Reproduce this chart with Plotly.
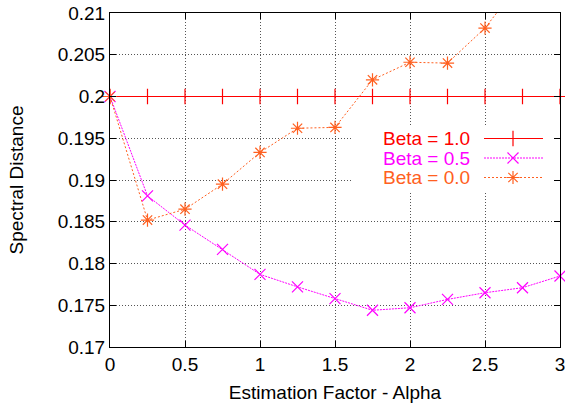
import plotly.graph_objects as go

alpha = [0, 0.25, 0.5, 0.75, 1.0, 1.25, 1.5, 1.75, 2.0, 2.25, 2.5, 2.75, 3.0]
beta10 = [0.2] * 13
beta05 = [0.2, 0.1881, 0.1846, 0.1817, 0.1787, 0.1772, 0.1758, 0.1744, 0.1747,
          0.1757, 0.1765, 0.1771, 0.1785]
beta00 = [0.2, 0.1852, 0.1865, 0.1895, 0.1933, 0.1962, 0.1963, 0.2020, 0.2041,
          0.2040, 0.2082, 0.2140, 0.2180]

names = ["Beta = 1.0", "Beta = 0.5", "Beta = 0.0"]
colors = ["#ff0000", "#ff00ff", "#ff6020"]
symbols = ["cross-thin-open", "x-thin-open", "asterisk-open"]
dashes = ["solid", "2px,1px", "2px,2px"]
series = [beta10, beta05, beta00]

xticks = [0, 0.5, 1, 1.5, 2, 2.5, 3]
xticklabels = ["0", "0.5", "1", "1.5", "2", "2.5", "3"]
yticks = [0.17, 0.175, 0.18, 0.185, 0.19, 0.195, 0.2, 0.205, 0.21]
yticklabels = ["0.17", "0.175", "0.18", "0.185", "0.19", "0.195", "0.2", "0.205", "0.21"]

W, H = 565, 410
L, R, T, B = 110, 5, 13, 63
PW, PH = W - L - R, H - T - B

def fx(px):
    return (px - L) / PW

def fy(py):
    return (H - B - py) / PH

FONT = "Liberation Sans, Arial, Helvetica, sans-serif"

fig = go.Figure()
for name, ys, c, s, d in zip(names, series, colors, symbols, dashes):
    fig.add_trace(go.Scatter(
        x=alpha, y=ys, mode="lines+markers", name=name,
        line=dict(color=c, width=1, dash=d),
        marker=dict(symbol=s, size=11, color=c, line=dict(color=c, width=1.2)),
        cliponaxis=False, showlegend=False,
    ))

# opaque key background (covers grid lines)
bx0, bx1, by0, by1 = fx(353), fx(557), fy(192), fy(126)
fig.add_trace(go.Scatter(
    x=[bx0, bx1, bx1, bx0, bx0], y=[by0, by0, by1, by1, by0],
    xaxis="x2", yaxis="y2", mode="lines", fill="toself",
    fillcolor="white", line=dict(width=0, color="white"),
    showlegend=False, hoverinfo="skip",
))

# custom gnuplot-style key
leg_y = [138.5, 158, 177.5]
for name, c, s, d, py in zip(names, colors, symbols, dashes, leg_y):
    fig.add_annotation(xref="paper", yref="paper", x=fx(472), y=fy(py),
                       text=name, showarrow=False, xanchor="right", yanchor="middle",
                       font=dict(family=FONT, size=19, color=c))
    fig.add_trace(go.Scatter(
        x=[fx(484), fx(543)], y=[fy(py), fy(py)], xaxis="x2", yaxis="y2",
        mode="lines", line=dict(color=c, width=1, dash=d),
        showlegend=False, hoverinfo="skip",
    ))
    fig.add_trace(go.Scatter(
        x=[fx(513)], y=[fy(py)], xaxis="x2", yaxis="y2", mode="markers",
        marker=dict(symbol=s, size=11, color=c, line=dict(color=c, width=1.2)),
        showlegend=False, hoverinfo="skip",
    ))

axis_common = dict(
    showline=True, linecolor="black", linewidth=1, mirror="ticks",
    ticks="inside", ticklen=6, tickcolor="black",
    showgrid=True, gridcolor="#555555", griddash="1px,2px", gridwidth=1,
    zeroline=False, automargin=False, ticklabeloverflow="allow",
    tickfont=dict(family=FONT, size=19, color="black"),
)

fig.update_layout(
    width=W, height=H,
    margin=dict(l=L, r=R, t=T, b=B, autoexpand=False),
    paper_bgcolor="white", plot_bgcolor="white",
    font=dict(family=FONT, size=19, color="black"),
    xaxis=dict(range=[0, 3], tickvals=xticks, ticktext=xticklabels,
               title=dict(text="Estimation Factor - Alpha", standoff=11,
                          font=dict(family=FONT, size=19)),
               **axis_common),
    yaxis=dict(range=[0.17, 0.21], tickvals=yticks, ticktext=yticklabels,
               title=dict(text="Spectral Distance", standoff=29,
                          font=dict(family=FONT, size=19)),
               **axis_common),
    xaxis2=dict(range=[0, 1], overlaying="x", visible=False, showgrid=False,
                automargin=False),
    yaxis2=dict(range=[0, 1], overlaying="y", visible=False, showgrid=False,
                automargin=False),
    showlegend=False,
    hovermode=False,
)

fig.write_html("out.html",
               config={"displayModeBar": False},
               post_script="document.body.style.margin='0px';document.body.style.overflow='hidden';")
